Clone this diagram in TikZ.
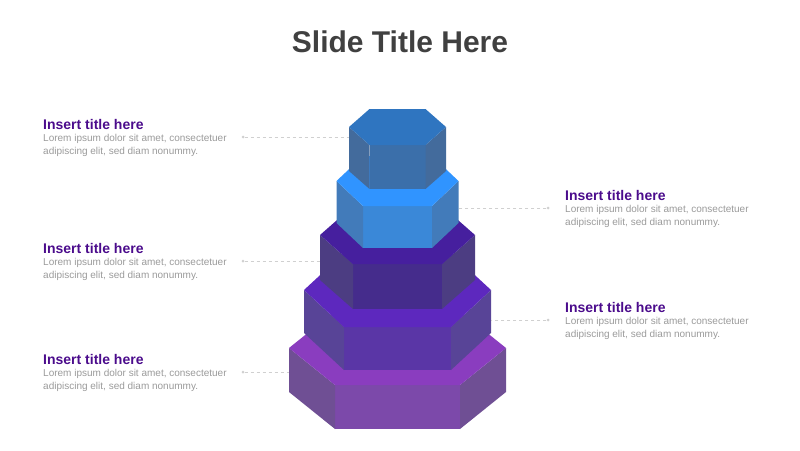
\documentclass[tikz,border=0pt]{standalone}
\usepackage{fontspec}
\setmainfont{Liberation Sans}
\newcommand\hextier[9]{% name W w yM yF h top front side
  \pgfmathsetmacro\yT{2*#4-#5}
  \pgfmathsetmacro\xL{397.5-#2}\pgfmathsetmacro\xR{397.5+#2}
  \pgfmathsetmacro\xl{397.5-#3}\pgfmathsetmacro\xr{397.5+#3}
  \pgfmathsetmacro\yb{#5+#6}\pgfmathsetmacro\ybs{#4+#6}
  \fill[#8] (\xl,#5) rectangle (\xr,\yb);
  \fill[#9] (\xL,#4) -- (\xl,#5) -- (\xl,\yb) -- (\xL,\ybs) -- cycle;
  \fill[#9] (\xR,#4) -- (\xr,#5) -- (\xr,\yb) -- (\xR,\ybs) -- cycle;
  \fill[#7] (\xL,#4) -- (\xl,\yT) -- (\xr,\yT) -- (\xR,#4) -- (\xr,#5) -- (\xl,#5) -- cycle;
  \coordinate (#1L) at (\xL,#4); \coordinate (#1R) at (\xR,#4);
}
\definecolor{ttl}{HTML}{404040}
\definecolor{hd}{HTML}{4B0C8C}
\definecolor{bd}{HTML}{9A9A9A}
\definecolor{cn}{HTML}{D0D0D0}
\definecolor{aT}{HTML}{2F75C0}\definecolor{aF}{HTML}{3B6FAA}\definecolor{aS}{HTML}{436B9C}
\definecolor{bT}{HTML}{3094FF}\definecolor{bF}{HTML}{3A88D8}\definecolor{bS}{HTML}{427BBA}
\definecolor{cT}{HTML}{461F9E}\definecolor{cF}{HTML}{452C8C}\definecolor{cS}{HTML}{4C3D82}
\definecolor{dT}{HTML}{5D28BE}\definecolor{dF}{HTML}{5A36A6}\definecolor{dS}{HTML}{584497}
\definecolor{eT}{HTML}{8A3DBF}\definecolor{eF}{HTML}{7C49AA}\definecolor{eS}{HTML}{6F4F94}
\tikzset{
  head/.style={anchor=base west,inner sep=0,font=\bfseries\fontsize{14}{16}\selectfont,text=hd},
  body/.style={anchor=north west,inner sep=0,align=left,font=\fontsize{10}{13}\selectfont,text=bd},
  conn/.style={cn,dashed,line width=0.6pt},
  dot/.style={circle,fill=cn,inner sep=0,minimum size=3pt},
}
\begin{document}
\begin{tikzpicture}[x=1pt,y=-1pt]
\useasboundingbox (0,0) rectangle (800,450);
\node[anchor=base,inner sep=0,font=\bfseries\fontsize{30}{34}\selectfont,text=ttl] (title) at (400,52) {Slide Title Here};
\hextier{e}{108.5}{62.5}{348}{385}{44}{aT!0!eT}{eF}{eS}
\hextier{d}{93.5}{53.5}{290}{327}{43}{dT}{dF}{dS}
\hextier{c}{77.5}{44.5}{235}{264}{45}{cT}{cF}{cS}
\hextier{b}{61}{34.5}{181}{206}{42}{bT}{bF}{bS}
\hextier{a}{48.5}{28}{127}{145}{44}{aT}{aF}{aS}
% texts
\node[head] (h1) at (43,129) {Insert title here};
\node[body] (b1) at (43,134) {Lorem ipsum dolor sit amet, consectetuer\\adipiscing elit, sed diam nonummy.};
\node[head] (h2) at (43,253) {Insert title here};
\node[body] (b2) at (43,258) {Lorem ipsum dolor sit amet, consectetuer\\adipiscing elit, sed diam nonummy.};
\node[head] (h3) at (43,364) {Insert title here};
\node[body] (b3) at (43,369) {Lorem ipsum dolor sit amet, consectetuer\\adipiscing elit, sed diam nonummy.};
\node[head] (h4) at (565,200) {Insert title here};
\node[body] (b4) at (565,205) {Lorem ipsum dolor sit amet, consectetuer\\adipiscing elit, sed diam nonummy.};
\node[head] (h5) at (565,312) {Insert title here};
\node[body] (b5) at (565,317) {Lorem ipsum dolor sit amet, consectetuer\\adipiscing elit, sed diam nonummy.};
% connectors
\node[dot] (d1) at (243,137) {};
\node[dot] (d2) at (243,261) {};
\node[dot] (d3) at (243,372) {};
\node[dot] (d4) at (548,208) {};
\node[dot] (d5) at (548,320) {};
\coordinate (e1) at (349,137);
\coordinate (e2) at (320,261);
\coordinate (e3) at (289,372);
\coordinate (e4) at (459,208);
\coordinate (e5) at (491,320);
\begin{scope}[on background layer/.style={}]
\foreach \i in {1,...,5}{\draw[conn] (d\i) -- (e\i);}
\end{scope}
\end{tikzpicture}
\end{document}
